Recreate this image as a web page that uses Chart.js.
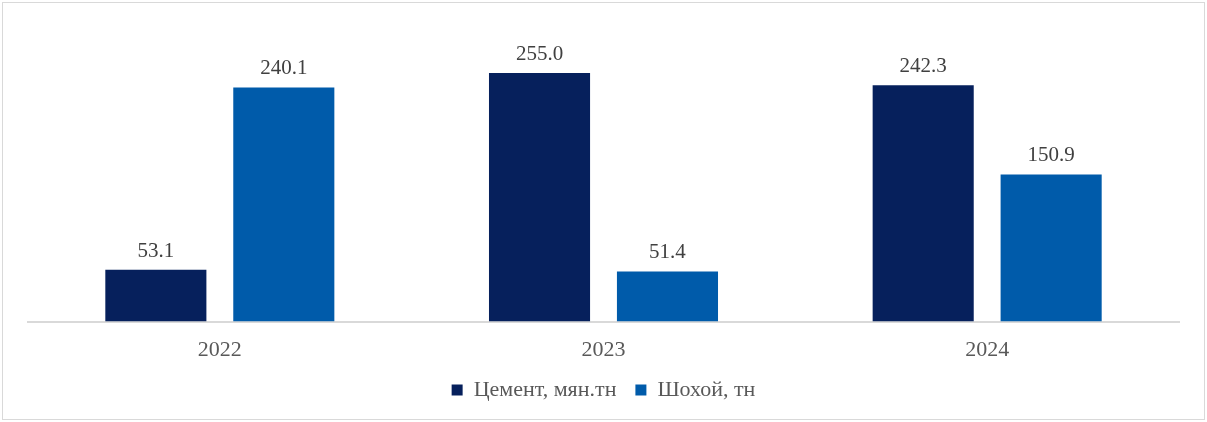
<!DOCTYPE html>
<html>
<head>
<meta charset="utf-8">
<script src="https://cdn.jsdelivr.net/npm/chart.js@4"></script>
<style>
  html, body { margin: 0; padding: 0; background: #fff; }
  #wrap { width: 1207px; height: 422px; position: relative; }
</style>
</head>
<body>
<div id="wrap"><canvas id="chart"></canvas></div>
<script>
const years = ['2022', '2023', '2024'];
const cement = [53.1, 255.0, 242.3];
const lime = [240.1, 51.4, 150.9];
const seriesNames = ['Цемент, мян.тн', 'Шохой, тн'];

const serif = "'Liberation Serif', 'Times New Roman', serif";

// frame round the whole picture
const frame = {
  id: 'frame',
  beforeDraw(chart) {
    const c = chart.ctx;
    c.save();
    c.fillStyle = '#fff';
    c.fillRect(0, 0, chart.width, chart.height);
    c.strokeStyle = '#d9d9d9';
    c.lineWidth = 1;
    c.strokeRect(2.5, 2.5, chart.width - 5, chart.height - 5);
    c.restore();
  }
};

// values above bars
const barLabels = {
  id: 'barLabels',
  afterDatasetsDraw(chart) {
    const c = chart.ctx;
    c.save();
    c.font = '21px ' + serif;
    c.fillStyle = '#404040';
    c.textAlign = 'center';
    c.textBaseline = 'alphabetic';
    chart.data.datasets.forEach((ds, i) => {
      chart.getDatasetMeta(i).data.forEach((bar, j) => {
        c.fillText(ds.data[j].toFixed(1), bar.x, bar.y - 13);
      });
    });
    c.restore();
  }
};

new Chart(document.getElementById('chart'), {
  type: 'bar',
  data: {
    labels: years,
    datasets: [
      { label: seriesNames[0], data: cement, backgroundColor: '#06205c' },
      { label: seriesNames[1], data: lime, backgroundColor: '#005baa' }
    ]
  },
  options: {
    responsive: true,
    maintainAspectRatio: false,
    animation: false,
    layout: { padding: { top: 29, left: 28, right: 28, bottom: 11 } },
    datasets: { bar: { categoryPercentage: 0.667, barPercentage: 0.79 } },
    scales: {
      x: {
        grid: { display: false },
        border: { display: true, color: '#d9d9d9', width: 2 },
        ticks: { color: '#595959', font: { family: serif, size: 22 }, padding: 7 },
        afterFit(scale) { scale.height -= 10; }
      },
      y: {
        display: false,
        min: 0,
        max: 300
      }
    },
    plugins: {
      legend: {
        position: 'bottom',
        labels: {
          color: '#595959',
          font: { family: serif, size: 22 },
          boxWidth: 11,
          boxHeight: 11,
          padding: 19
        }
      },
      tooltip: { enabled: false }
    }
  },
  plugins: [frame, barLabels]
});
</script>
</body>
</html>
